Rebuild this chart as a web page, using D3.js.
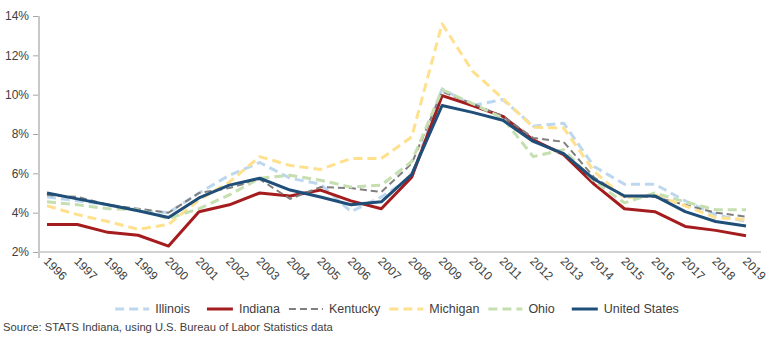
<!DOCTYPE html>
<html>
<head>
<meta charset="utf-8">
<script src="https://cdn.jsdelivr.net/npm/d3@7"></script>
<style>
  body { margin: 0; background: #fff; }
  svg { display: block; font-family: "Liberation Sans", Arial, sans-serif; }
</style>
</head>
<body>
<div id="chart"></div>
<script>
const years = ["1996","1997","1998","1999","2000","2001","2002","2003","2004","2005","2006","2007",
               "2008","2009","2010","2011","2012","2013","2014","2015","2016","2017","2018","2019"];
const illinois = [4.8,4.6,4.4,4.1,4.0,5.0,5.9,6.55,5.75,5.45,4.05,4.8,5.8,10.3,9.45,9.75,8.4,8.55,6.35,5.45,5.45,4.6,3.9,3.55];
const indiana  = [3.4,3.4,3.0,2.85,2.3,4.05,4.4,5.0,4.85,5.15,4.6,4.2,5.8,9.95,9.45,8.9,7.7,6.95,5.45,4.2,4.05,3.3,3.1,2.83];
const kentucky = [4.9,4.8,4.4,4.2,4.0,5.0,5.25,5.7,4.7,5.3,5.25,5.05,6.5,10.15,9.55,8.9,7.8,7.6,5.8,4.8,4.8,4.4,4.0,3.8];
const michigan = [4.35,3.9,3.55,3.15,3.4,4.65,5.55,6.85,6.4,6.2,6.75,6.75,7.85,13.6,11.2,9.8,8.35,8.3,6.1,4.75,4.9,4.35,3.75,3.65];
const ohio     = [4.55,4.4,4.2,4.15,3.7,4.2,4.9,5.75,5.9,5.65,5.3,5.4,6.6,10.25,9.55,8.8,6.85,7.2,5.6,4.5,5.0,4.55,4.15,4.15];
const us       = [5.0,4.7,4.4,4.1,3.75,4.75,5.4,5.75,5.15,4.8,4.4,4.55,5.95,9.45,9.1,8.7,7.62,7.0,5.7,4.85,4.85,4.05,3.55,3.32];
const yTicks = [2,4,6,8,10,12,14];
const sourceText = "Source: STATS Indiana, using U.S. Bureau of Labor Statistics data";

const series = [
    {name: "Illinois",      values: illinois, color: "#bdd7ee", width: 3,   dash: "9,5"},
    {name: "Indiana",       values: indiana,  color: "#a51c1e", width: 3,   dash: null},
    {name: "Kentucky",      values: kentucky, color: "#7f7f7f", width: 2,   dash: "7,4"},
    {name: "Michigan",      values: michigan, color: "#ffe08c", width: 3,   dash: "9,5"},
    {name: "Ohio",          values: ohio,     color: "#c5dfb0", width: 3,   dash: "9,5"},
    {name: "United States", values: us,       color: "#1f4e79", width: 3,   dash: null}
];

const W = 777, H = 338;
const plot = {left: 39, right: 761, top: 16, bottom: 252};

let svg = d3.select("#chart").append("svg")
    .attr("width", W)
    .attr("height", H);

let x = d3.scalePoint()
    .domain(years)
    .range([47, 746]);

let y = d3.scaleLinear()
    .domain([2, 14])
    .range([plot.bottom, plot.top]);

// y axis
let yaxis = svg.append("g")
    .attr("transform", "translate(" + plot.left + ",0)")
    .call(d3.axisLeft(y).tickValues(yTicks).tickSize(6).tickPadding(4)
        .tickFormat(d => d + "%"));
yaxis.select(".domain").remove();
yaxis.selectAll(".tick line").attr("stroke", "#a6a6a6");
yaxis.selectAll(".tick text")
    .attr("fill", "#404040")
    .style("font-size", "12px")
    .style("font-family", "'Liberation Sans', Arial, sans-serif");

// x axis baseline
svg.append("line")
    .attr("x1", plot.left).attr("x2", plot.right)
    .attr("y1", plot.bottom).attr("y2", plot.bottom)
    .attr("stroke", "#a6a6a6").attr("stroke-width", 1);

svg.append("line")
    .attr("x1", plot.left).attr("x2", plot.left)
    .attr("y1", plot.top).attr("y2", plot.bottom + 6)
    .attr("stroke", "#c8c8c8").attr("stroke-width", 2);

// rotated year labels
svg.append("g").selectAll("text")
    .data(years)
    .enter()
    .append("text")
    .attr("transform", d => "translate(" + (x(d) - 4) + ",262) rotate(45)")
    .attr("fill", "#404040")
    .style("font-size", "12px")
    .text(d => d);

// lines
let line = d3.line()
    .x((d, i) => x(years[i]))
    .y(d => y(d));

svg.append("g").selectAll("path")
    .data(series)
    .enter()
    .append("path")
    .attr("d", s => line(s.values))
    .attr("fill", "none")
    .attr("stroke", s => s.color)
    .attr("stroke-width", s => s.width)
    .attr("stroke-dasharray", s => s.dash)
    .attr("stroke-linejoin", "round");

// legend
let legend = svg.append("g");
let items = legend.selectAll("g")
    .data(series)
    .enter()
    .append("g");

items.append("text")
    .attr("x", 40)
    .attr("y", 313)
    .attr("fill", "#404040")
    .style("font-size", "12.5px")
    .text(s => s.name);

let gap = 9;
let pos = 0;
let offsets = [];
items.each(function (s) {
    let tw = d3.select(this).select("text").node().getComputedTextLength();
    offsets.push(pos);
    pos += 40 + tw + gap;
});
let legendStart = 397 - (pos - gap) / 2;

items.attr("transform", (s, i) => "translate(" + (legendStart + offsets[i]) + ",0)");

items.append("line")
    .attr("x1", s => s.dash ? 0 : 8)
    .attr("x2", 34)
    .attr("y1", 309).attr("y2", 309)
    .attr("stroke", s => s.color)
    .attr("stroke-width", s => s.width)
    .attr("stroke-dasharray", s => s.dash);

// source note
svg.append("text")
    .attr("x", 3)
    .attr("y", 331)
    .attr("fill", "#404040")
    .style("font-size", "11.2px")
    .text(sourceText);
</script>
</body>
</html>
